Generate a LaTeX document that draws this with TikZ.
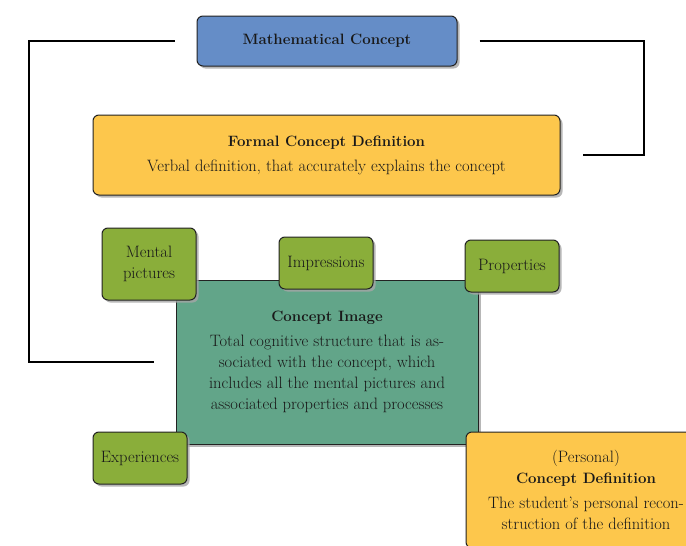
\documentclass[tikz,border=0pt]{standalone}
\usepackage{fontspec}
\usetikzlibrary{shadows}
\definecolor{mcblue}{RGB}{101,141,199}
\definecolor{defyellow}{RGB}{253,199,76}
\definecolor{imgteal}{RGB}{98,165,137}
\definecolor{olive}{RGB}{138,174,58}
\definecolor{edge}{RGB}{34,34,34}
\newcommand{\ttl}[1]{{\fontsize{15}{21}\selectfont\bfseries #1}}
\tikzset{
  boxbase/.style={draw=edge, line width=1pt, align=center, inner sep=0pt, text=black!90,
    font=\fontsize{16.5}{21}\selectfont,
    drop shadow={shadow xshift=2.5pt, shadow yshift=-2.5pt, fill=black!35, opacity=0.8}},
  mainbox/.style={boxbase, rounded corners=6pt},
  smallbox/.style={boxbase, rounded corners=6pt, fill=olive, minimum width=94pt},
  link/.style={draw=black, line width=1.1pt, shorten <=22pt, shorten >=22pt}
}
\begin{document}
\begin{tikzpicture}[x=1pt,y=-1pt]
\useasboundingbox[fill=white] (0,0) rectangle (686,546);
\node[mainbox, fill=mcblue, minimum width=260pt, minimum height=50pt] (mc) at (327,41)
  {\ttl{Mathematical Concept}};
\node[mainbox, fill=defyellow, minimum width=467pt, minimum height=80pt] (fcd) at (326.5,155)
  {\ttl{Formal Concept Definition}\\[4pt]Verbal definition, that accurately explains the concept};
\node[boxbase, fill=imgteal, minimum width=302pt, minimum height=164pt] (ci) at (327,362)
  {\ttl{Concept Image}\\[4pt]Total cognitive structure that is as-\\sociated with the concept, which\\includes all the mental pictures and\\associated properties and processes};
\node[smallbox, minimum height=72pt] (mp) at (149,264) {Mental\\pictures};
\node[smallbox, minimum height=52pt] (imp) at (326,263) {Impressions};
\node[smallbox, minimum height=52pt] (prop) at (512,266) {Properties};
\node[smallbox, minimum height=52pt] (exp) at (140,458) {Experiences};
\node[mainbox, fill=defyellow, minimum width=240pt, minimum height=116pt] (pcd) at (586,490)
  {(Personal)\\\ttl{Concept Definition}\\[4pt]The student's personal recon-\\struction of the definition};
\coordinate (lx) at (29,41);
\coordinate (rx) at (644,41);
\draw[link] (mc.west) -| (lx) |- (ci.west);
\draw[link] (mc.east) -| (rx) |- (fcd.east);
\end{tikzpicture}
\end{document}
